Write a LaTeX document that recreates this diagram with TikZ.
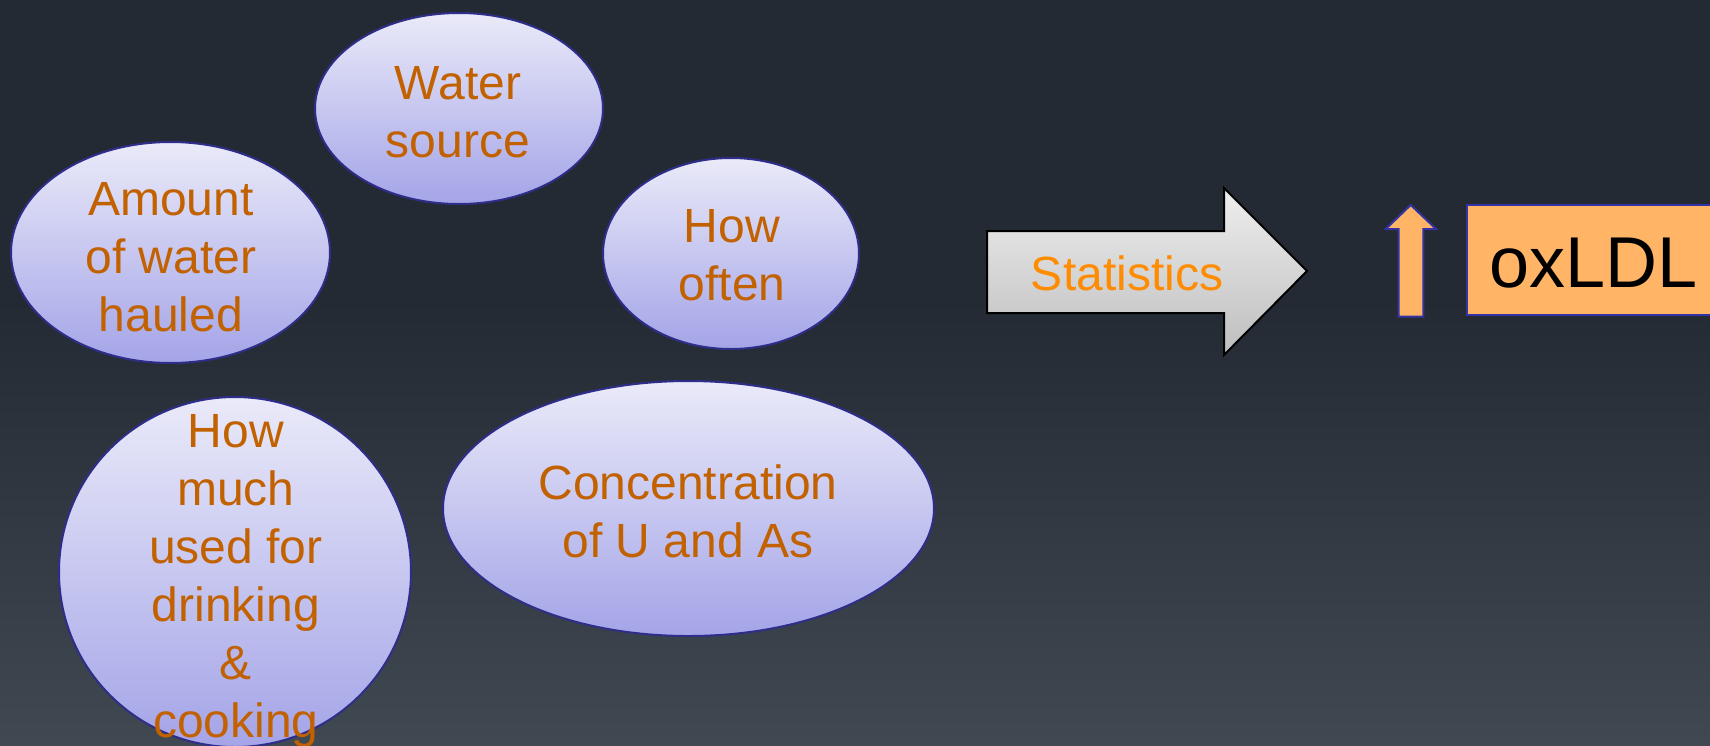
\documentclass[tikz,border=0pt]{standalone}
\usepackage{fontspec}
\setmainfont{Liberation Sans}
\usetikzlibrary{shapes.geometric}
\definecolor{bgTop}{RGB}{36,42,51}
\definecolor{bgBot}{RGB}{64,72,82}
\definecolor{ellTop}{RGB}{234,234,249}
\definecolor{ellBot}{RGB}{164,164,232}
\definecolor{ellLine}{RGB}{46,46,138}
\definecolor{txtOrange}{RGB}{194,97,0}
\definecolor{statOrange}{RGB}{255,140,0}
\definecolor{statTop}{RGB}{238,238,238}
\definecolor{statBot}{RGB}{190,190,190}
\definecolor{boxFill}{RGB}{255,180,102}
\definecolor{boxLine}{RGB}{51,51,165}
\tikzset{
  bubble/.style={ellipse, draw=ellLine, line width=2pt, top color=ellTop, bottom color=ellBot, inner sep=0pt},
  bubbletext/.style={text=txtOrange, align=center, inner sep=0pt, font=\fontsize{48}{58}\selectfont},
}
\begin{document}
\begin{tikzpicture}[x=1pt,y=-1pt]
\useasboundingbox (0,0) rectangle (1710,745);
\fill[bgTop] (0,0) rectangle (1710,745);
\shade[top color=bgTop, bottom color=bgBot] (0,300) rectangle (1710,745);

% bubbles
\node[bubble, minimum width=288pt, minimum height=191pt] (water) at (459,108.5) {};
\node[bubble, minimum width=319pt, minimum height=221pt] (amount) at (170.5,252.5) {};
\node[bubble, minimum width=256pt, minimum height=191pt] (often) at (731,253.5) {};
\node[bubble, minimum width=352pt, minimum height=350pt] (much) at (235,572) {};
\node[bubble, minimum width=491pt, minimum height=255pt] (conc) at (688.5,508.5) {};

\node[bubbletext] (waterT) at (458,112) {Water\\source};
\node[bubbletext] (amountT) at (171,257.5) {Amount\\of water\\hauled};
\node[bubbletext] (oftenT) at (732,255) {How\\often};
\node[bubbletext] (concT) at (688,511) {Concentration\\of U and As};
\node[bubbletext] (muchT) at (236,581) {How\\much\\used for\\drinking\\\&\\cooking};

% statistics arrow
\coordinate (s1) at (987,231);
\coordinate (s2) at (1224,231);
\coordinate (s3) at (1224,188);
\coordinate (s4) at (1307,271);
\coordinate (s5) at (1224,355);
\coordinate (s6) at (1224,313);
\coordinate (s7) at (987,313);
\draw[black, line width=2pt, line join=miter, top color=statTop, bottom color=statBot]
  (s1) -- (s2) -- (s3) -- (s4) -- (s5) -- (s6) -- (s7) -- cycle;
\node[text=statOrange, anchor=base, inner sep=0pt, font=\fontsize{48}{56}\selectfont] (stat) at (1127,290) {Statistics};

% up arrow
\coordinate (u1) at (1398.7,316.7);
\coordinate (u2) at (1398.7,229);
\coordinate (u3) at (1385.7,229);
\coordinate (u4) at (1410.7,205);
\coordinate (u5) at (1436,229);
\coordinate (u6) at (1423.3,229);
\coordinate (u7) at (1423.3,316.7);
\draw[boxLine, fill=boxFill, line width=2pt, line join=miter]
  (u1) -- (u2) -- (u3) -- (u4) -- (u5) -- (u6) -- (u7) -- cycle;

% oxLDL box
\draw[boxLine, fill=boxFill, line width=2pt] (1467,205) rectangle (1725,315);
\node[anchor=base west, inner sep=0pt, text=black, font=\fontsize{72}{80}\selectfont] (ox) at (1489,287) {oxLDL};
\end{tikzpicture}
\end{document}
